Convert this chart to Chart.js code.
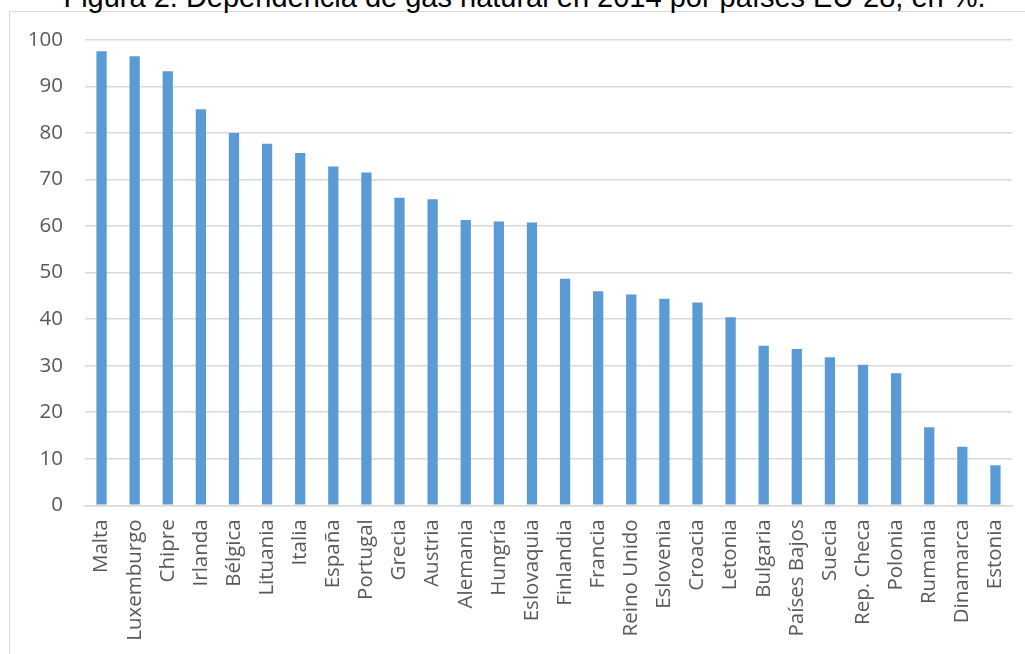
<!DOCTYPE html>
<html>
<head>
<meta charset="utf-8">
<script src="https://cdn.jsdelivr.net/npm/chart.js@4"></script>
<style>
  html, body { margin: 0; padding: 0; background: #fff; overflow: hidden; }
  #wrap { position: relative; width: 1025px; height: 654px; overflow: hidden; }
  #frame {
    position: absolute; left: 9px; top: 11px; width: 1100px; height: 700px;
    border: 1px solid #d9d9d9; box-sizing: border-box;
  }
  #title {
    position: absolute; left: 12px; top: -17.5px; width: 1025px; text-align: center;
    font-family: "Liberation Sans", Arial, sans-serif; font-size: 29px; line-height: 29px;
    color: #000; white-space: nowrap;
  }
  #chart { position: absolute; left: 0; top: 0; }
</style>
</head>
<body>
<div id="wrap">
  <div id="frame"></div>
  <div id="title">Figura 2. Dependencia de gas natural en 2014 por países EU-28, en %.</div>
  <canvas id="chart" width="1025" height="654"></canvas>
</div>
<script>
// countries, sorted by dependency
const countries = [
  "Malta", "Luxemburgo", "Chipre", "Irlanda", "Bélgica", "Lituania", "Italia",
  "España", "Portugal", "Grecia", "Austria", "Alemania", "Hungría", "Eslovaquia",
  "Finlandia", "Francia", "Reino Unido", "Eslovenia", "Croacia", "Letonia",
  "Bulgaria", "Países Bajos", "Suecia", "Rep. Checa", "Polonia", "Rumania",
  "Dinamarca", "Estonia"
];
// dependency in %
const dependency = [
  97.6, 96.5, 93.3, 85.1, 80.0, 77.7, 75.7,
  72.8, 71.5, 66.1, 65.8, 61.3, 61.0, 60.8,
  48.7, 46.0, 45.3, 44.4, 43.6, 40.4,
  34.3, 33.6, 31.8, 30.2, 28.4, 16.8,
  12.6, 8.6
];
const yMin = 0;
const yMax = 100;
const yStep = 10;

const tickFont = { family: "'Open Sans', sans-serif", size: 20.5 };
const tickColor = "#595959";
const gridColor = "#d9d9d9";

const ctx = document.getElementById("chart").getContext("2d");
new Chart(ctx, {
  type: "bar",
  data: {
    labels: countries,
    datasets: [{
      data: dependency,
      backgroundColor: "#5b9bd5",
      borderWidth: 0,
      categoryPercentage: 1,
      barPercentage: 0.31,
    }],
  },
  options: {
    responsive: false,
    animation: false,
    layout: { padding: { top: 40, right: 13, bottom: 0, left: 0 } },
    plugins: {
      legend: { display: false },
      tooltip: { enabled: false },
    },
    scales: {
      x: {
        grid: { display: false, drawTicks: false },
        border: { color: gridColor, width: 1.5 },
        ticks: {
          color: tickColor,
          font: tickFont,
          minRotation: 90,
          maxRotation: 90,
          autoSkip: false,
          padding: 14,
        },
        afterFit: (scale) => {
          scale.height = 148.7;
          scale.paddingLeft = 0;
          scale.paddingRight = 0;
        },
      },
      y: {
        min: yMin,
        max: yMax,
        grid: { color: gridColor, lineWidth: 1.5, drawTicks: false },
        border: { display: false },
        ticks: {
          stepSize: yStep,
          color: tickColor,
          font: tickFont,
          padding: 22,
        },
        afterFit: (scale) => {
          scale.width = 85;
          scale.paddingTop = 0;
          scale.paddingBottom = 0;
        },
      },
    },
  },
});
</script>
</body>
</html>
